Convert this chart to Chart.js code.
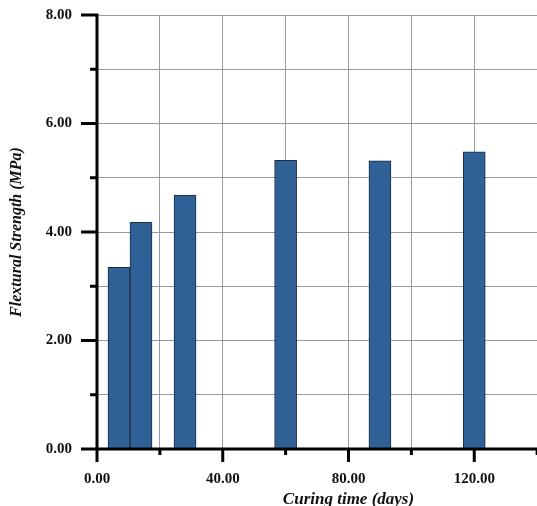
<!DOCTYPE html>
<html>
<head>
<meta charset="utf-8">
<script src="https://cdn.jsdelivr.net/npm/chart.js@4"></script>
<style>
  html, body { margin: 0; padding: 0; background: #fff; overflow: hidden; }
  #wrap { width: 537px; height: 506px; overflow: hidden; position: relative; }
  canvas { position: absolute; left: 0; top: 0; }
</style>
</head>
<body>
<div id="wrap"><canvas id="myChart" width="600" height="520"></canvas></div>
<script>
// curing time (days) and flexural strength (MPa)
const curingDays = [7, 14, 28, 60, 90, 120];
const strength = [3.35, 4.18, 4.68, 5.32, 5.31, 5.48];
const yTicks = [0, 2, 4, 6, 8];
const xTicks = [0, 40, 80, 120];

const serif = "'Liberation Serif', 'Times New Roman', serif";

// axis lines + long/short tick marks, drawn over the bars
const axisPlugin = {
    id: 'axisTicks',
    afterDatasetsDraw(chart) {
        const c = chart.ctx;
        const xs = chart.scales.x, ys = chart.scales.y;
        const x0 = xs.left, y0 = ys.bottom;
        c.save();
        c.strokeStyle = '#000';
        c.lineWidth = 3;
        c.lineCap = 'butt';
        c.beginPath();
        c.moveTo(x0, ys.top);
        c.lineTo(x0, y0);
        c.moveTo(x0, y0);
        c.lineTo(xs.right, y0);
        ys.ticks.forEach(t => {
            const py = ys.getPixelForValue(t.value);
            const len = yTicks.includes(t.value) ? 16 : 7;
            c.moveTo(x0 - len, py);
            c.lineTo(x0 + 1.5, py);
        });
        xs.ticks.forEach(t => {
            const px = xs.getPixelForValue(t.value);
            const len = xTicks.includes(t.value) ? 13 : 6;
            c.moveTo(px, y0 - 1.5);
            c.lineTo(px, y0 + len);
        });
        c.stroke();
        c.restore();
    }
};

const noPad = (s) => {
    s.paddingLeft = 0;
    s.paddingRight = 0;
    s.paddingTop = 0;
    s.paddingBottom = 0;
};

const renderChart = () => {
    var ctx = document.getElementById('myChart').getContext('2d');
    var myChart = new Chart(ctx, {
        type: 'bar',
        data: {
            datasets: [{
                label: 'Flexural Strength',
                data: curingDays.map((d, i) => ({x: d, y: strength[i]})),
                backgroundColor: '#2f6096',
                borderColor: '#1b2b44',
                borderWidth: 1,
                barPercentage: 1,
                categoryPercentage: 1
            }]
        },
        options: {
            responsive: false,
            animation: false,
            layout: {padding: {top: 15, right: 0, bottom: 10, left: 0}},
            plugins: {legend: {display: false}, tooltip: {enabled: false}},
            scales: {
                x: {
                    type: 'linear',
                    offset: false,
                    min: 0,
                    max: 160,
                    afterFit: (s) => { s.height = 61; noPad(s); },
                    border: {display: false},
                    grid: {color: '#9a9a9a', lineWidth: 1, drawTicks: false, offset: false},
                    ticks: {
                        stepSize: 20,
                        autoSkip: false,
                        maxRotation: 0,
                        padding: 21,
                        color: '#111',
                        font: {family: serif, size: 15, weight: 'bold'},
                        callback: (v) => xTicks.includes(v) ? v.toFixed(2) : ''
                    },
                    title: {
                        display: true,
                        text: 'Curing time (days)',
                        color: '#111',
                        padding: {top: 0, bottom: 0},
                        font: {family: serif, size: 17, weight: 'bold', style: 'italic'}
                    }
                },
                y: {
                    min: 0,
                    max: 8,
                    afterFit: (s) => { s.width = 97; noPad(s); },
                    border: {display: false},
                    grid: {color: '#9a9a9a', lineWidth: 1, drawTicks: false},
                    ticks: {
                        stepSize: 1,
                        autoSkip: false,
                        padding: 25,
                        color: '#111',
                        font: {family: serif, size: 15, weight: 'bold'},
                        callback: (v) => yTicks.includes(v) ? v.toFixed(2) : ''
                    },
                    title: {
                        display: true,
                        text: 'Flextural Strength (MPa)',
                        color: '#111',
                        padding: {top: 7, bottom: 0},
                        font: {family: serif, size: 16, weight: 'bold', style: 'italic'}
                    }
                }
            }
        },
        plugins: [axisPlugin]
    });
};

renderChart();
</script>
</body>
</html>
